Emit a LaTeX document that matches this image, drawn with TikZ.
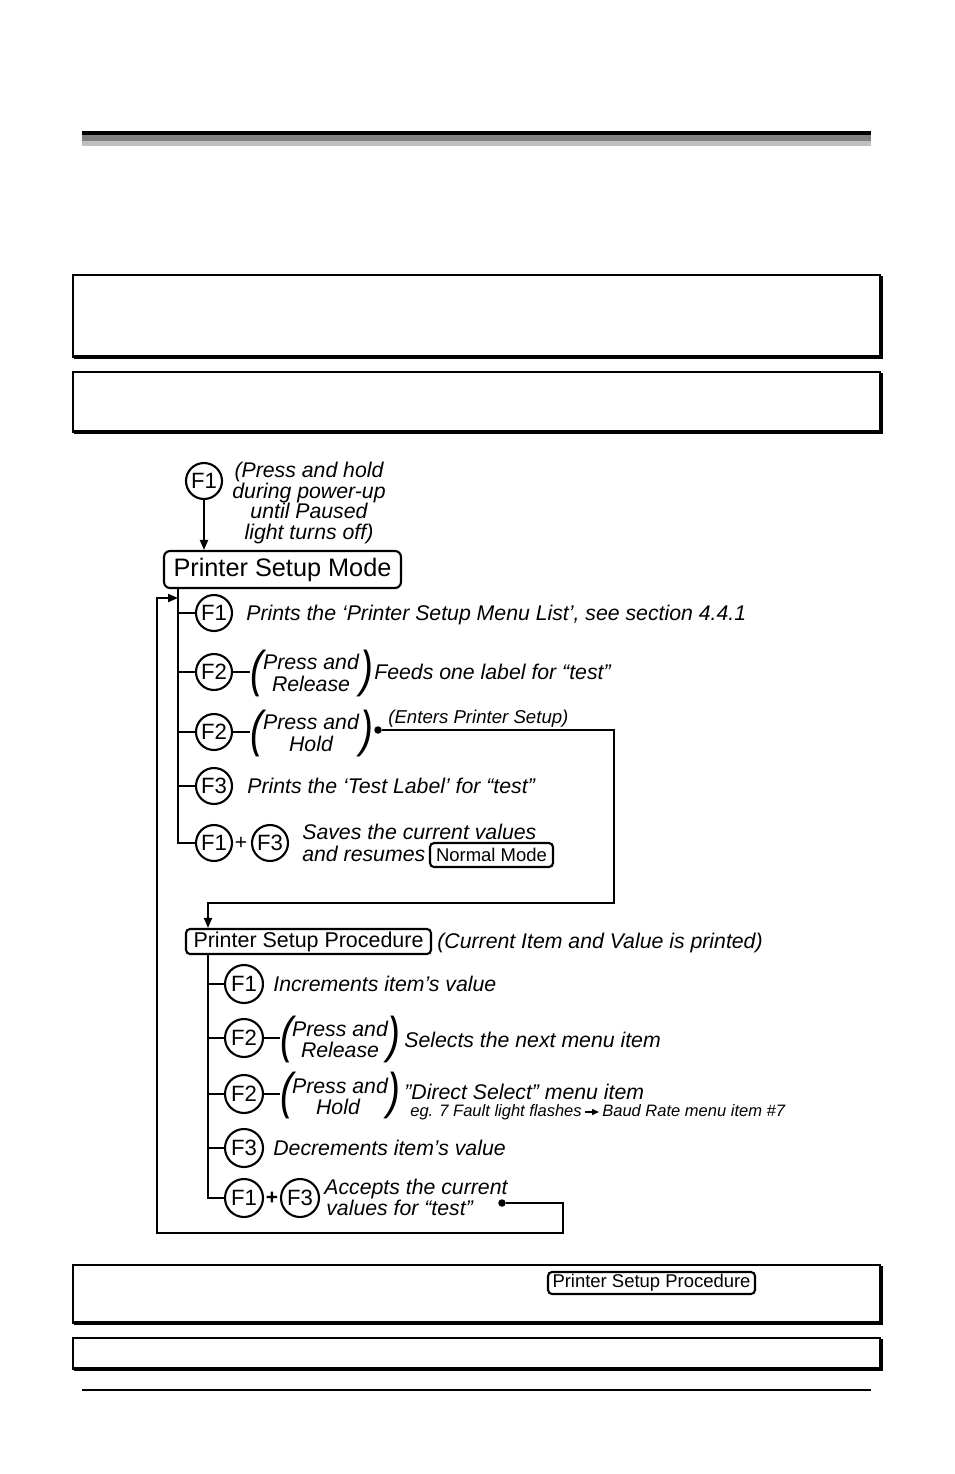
\documentclass[tikz,border=0pt]{standalone}
\usepackage{fontspec}
\setmainfont{Liberation Sans}
\usetikzlibrary{arrows.meta}
\begin{document}
\begin{tikzpicture}[x=0.02cm,y=-0.02cm,
  key/.style={circle,draw,line width=1.2pt,minimum size=0.72cm,inner sep=0pt,font=\fontsize{12.6}{12.6}\selectfont},
  keyb/.style={key,minimum size=0.76cm},
  it/.style={anchor=base west,inner sep=0pt,font=\fontsize{12.1}{14}\selectfont\itshape},
  itc/.style={anchor=base,inner sep=0pt,font=\fontsize{12.1}{14}\selectfont\itshape},
  small/.style={anchor=base west,inner sep=0pt,font=\fontsize{10.6}{12}\selectfont\itshape},
  tiny/.style={anchor=base west,inner sep=0pt,font=\fontsize{9.4}{11}\selectfont\itshape},
  paren/.style={inner sep=0pt,font=\fontsize{22}{22}\selectfont\itshape},
  conn/.style={line width=1.1pt},
  arr/.style={conn,-{Triangle[length=0.2cm,width=0.16cm]}},
  modebox/.style={draw,rounded corners=0.12cm,line width=1.2pt,inner sep=0pt},
  dot/.style={circle,fill,inner sep=0pt,minimum size=0.15cm},
  plus/.style={inner sep=0pt,font=\fontsize{12}{12}\selectfont}]
\useasboundingbox (0,0) rectangle (954,1474);
% header bar
\fill[black] (82,131) rectangle (871,135);
\fill[black!50] (82,135) rectangle (871,141);
\fill[black!25] (82,141) rectangle (871,146);
% shadow boxes
\draw[line width=0.6pt] (73,275) rectangle (880,357);
\draw[line width=2pt] (74,357) -- (881,357) -- (881,276);
\draw[line width=0.6pt] (73,372) rectangle (880,432);
\draw[line width=2pt] (74,432) -- (881,432) -- (881,373);
\draw[line width=0.6pt] (73,1265) rectangle (880,1323);
\draw[line width=2pt] (74,1323) -- (881,1323) -- (881,1266);
\draw[line width=0.6pt] (73,1338) rectangle (880,1369);
\draw[line width=2pt] (74,1369) -- (881,1369) -- (881,1339);
% footer line
\draw[line width=1.2pt] (82,1390) -- (871,1390);

% top key
\node[key] (k0) at (204,481) {F1};
\node[inner sep=0pt,align=center,font=\fontsize{12.1}{11.9}\selectfont\itshape] (n0) at (309,503)
  {(Press and hold\\during power-up\\until Paused\\light turns off)};
\node[modebox,minimum width=4.74cm,minimum height=0.74cm,font=\fontsize{14.4}{14.4}\selectfont] (psm) at (282.5,569.5) {Printer Setup Mode};
\draw[arr] (k0.south) -- (k0.south |- psm.north);

% upper rows
\coordinate (sp) at (178,588);
\node[key] (a1) at (214,613) {F1};
\node[it] (t1) at (246,620) {Prints the ‘Printer Setup Menu List’, see section 4.4.1};
\node[key] (a2) at (214,672) {F2};
\node[paren] (lp2) at (257,673) {\scalebox{1}[1.3]{(}};
\node[paren] (rp2) at (367,673) {\scalebox{1}[1.3]{)}};
\node[itc] (p2a) at (311,669) {Press and};
\node[itc] (p2b) at (311,691) {Release};
\node[it] (t2) at (374,679) {Feeds one label for “test”};
\node[key] (a3) at (214,732) {F2};
\node[paren] (lp3) at (257,733) {\scalebox{1}[1.3]{(}};
\node[paren] (rp3) at (367,733) {\scalebox{1}[1.3]{)}};
\node[itc] (p3a) at (311,729) {Press and};
\node[itc] (p3b) at (311,751) {Hold};
\node[dot] (d1) at (378,730) {};
\node[small] (t3) at (388,723) {(Enters Printer Setup)};
\node[key] (a4) at (214,786) {F3};
\node[it] (t4) at (247,793) {Prints the ‘Test Label’ for “test”};
\node[key] (a5) at (214,843) {F1};
\node[plus] (pl1) at (241,843) {+};
\node[key] (a6) at (270,843) {F3};
\node[it] (t5a) at (302,839) {Saves the current values};
\node[it] (t5b) at (302,861) {and resumes};
\node[modebox,rounded corners=0.08cm,minimum width=2.46cm,minimum height=0.48cm,font=\fontsize{10.5}{10.5}\selectfont] (nm) at (491.5,855) {Normal Mode};

\draw[conn] (sp) |- (a5);
\draw[conn] (sp |- a1) -- (a1);
\draw[conn] (sp |- a2) -- (a2);
\draw[conn] (sp |- a3) -- (a3);
\draw[conn] (sp |- a4) -- (a4);
\draw[conn] (a2.east) -- (a2.east -| lp2.west);
\draw[conn] (a3.east) -- (a3.east -| lp3.west);

% procedure
\node[modebox,rounded corners=0.08cm,minimum width=4.9cm,minimum height=0.5cm,font=\fontsize{12.2}{12.2}\selectfont] (pspc) at (308.5,941.5) {Printer Setup Procedure};
\node[it] (tc) at (437,948) {(Current Item and Value is printed)};
\coordinate (c1) at (614,903);
\coordinate (c2) at (208,903);
\draw[arr] (d1) -| (c1) -- (c2) -- (c2 |- pspc.north);

% lower rows
\coordinate (sq) at (208,954);
\node[keyb] (b1) at (244,984) {F1};
\node[it] (u1) at (273,991) {Increments item’s value};
\node[keyb] (b2) at (244,1038) {F2};
\node[paren] (lq2) at (287,1039) {\scalebox{1}[1.3]{(}};
\node[paren] (rq2) at (394,1039) {\scalebox{1}[1.3]{)}};
\node[itc] (q2a) at (340,1036) {Press and};
\node[itc] (q2b) at (340,1057) {Release};
\node[it] (u2) at (404,1047) {Selects the next menu item};
\node[keyb] (b3) at (244,1094) {F2};
\node[paren] (lq3) at (287,1095) {\scalebox{1}[1.3]{(}};
\node[paren] (rq3) at (394,1095) {\scalebox{1}[1.3]{)}};
\node[itc] (q3a) at (340,1093) {Press and};
\node[itc] (q3b) at (338,1114) {Hold};
\node[it] (u3) at (404,1099) {”Direct Select” menu item};
\node[tiny] (u3b) at (410,1116) {eg. 7 Fault light flashes};
\node[tiny] (u3c) at (602,1116) {Baud Rate menu item \#7};
\coordinate (ar1) at (585,1112);
\coordinate (ar2) at (599,1112);
\draw[line width=0.8pt,-{Triangle[length=0.14cm,width=0.12cm]}] (ar1) -- (ar2);
\node[keyb] (b4) at (244,1148) {F3};
\node[it] (u4) at (273,1155) {Decrements item’s value};
\node[keyb] (b5) at (244,1198) {F1};
\node[plus,font=\fontsize{12}{12}\selectfont\bfseries] (pl2) at (272,1198) {+};
\node[keyb] (b6) at (300,1198) {F3};
\node[it] (u5a) at (324,1194) {Accepts the current};
\node[it] (u5b) at (326,1215) {values for “test”};
\node[dot] (d2) at (502,1203) {};

\draw[conn] (sq) |- (b5);
\draw[conn] (sq |- b1) -- (b1);
\draw[conn] (sq |- b2) -- (b2);
\draw[conn] (sq |- b3) -- (b3);
\draw[conn] (sq |- b4) -- (b4);
\draw[conn] (b2.east) -- (b2.east -| lq2.west);
\draw[conn] (b3.east) -- (b3.east -| lq3.west);

% feedback loop
\coordinate (c3) at (563,1233);
\coordinate (c4) at (157,598);
\draw[arr] (d2) -| (c3) -| (c4) -- (c4 -| sp);

% bottom box label
\node[modebox,rounded corners=0.08cm,minimum width=4.14cm,minimum height=0.44cm,font=\fontsize{10.5}{10.5}\selectfont] (pspc2) at (651.5,1283) {Printer Setup Procedure};
\end{tikzpicture}
\end{document}
